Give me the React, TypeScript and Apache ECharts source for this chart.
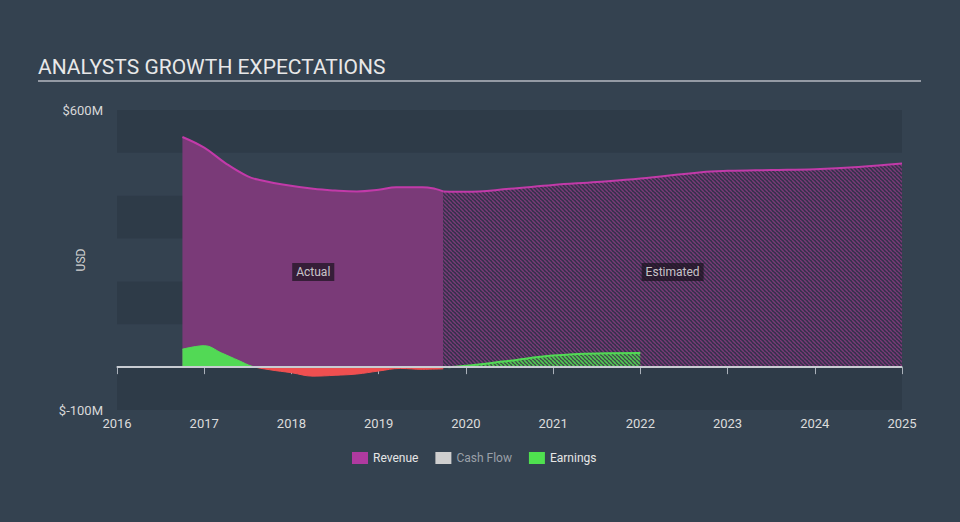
import React, { useEffect, useRef } from "react";
import * as echarts from "echarts";

// ---- data ----
const revenueActualX = [2016.75, 2017.0, 2017.25, 2017.5, 2017.65, 2017.9, 2018.25, 2018.5, 2018.75, 2019.0, 2019.2, 2019.5, 2019.65, 2019.74];
const revenueActualY = [537, 512, 475, 445, 436, 426, 416, 412, 410, 414, 420, 420, 416, 410];
const revenueEstX = [2019.74, 2020.0, 2020.5, 2021.0, 2021.5, 2022.0, 2022.7, 2023.0, 2023.5, 2024.0, 2024.5, 2025.0];
const revenueEstY = [410, 409, 416, 425, 432, 440, 455, 458, 460, 462, 467, 475];
const earningsActualX = [2016.75, 2016.9, 2017.0, 2017.2, 2017.4, 2017.55, 2017.75, 2018.0, 2018.25, 2018.5, 2018.75, 2019.0, 2019.25, 2019.5, 2019.74];
const earningsActualY = [42, 48, 50, 33, 15, 2, -6, -13, -21, -19, -16, -9, -3, -5, -4];
const earningsEstX = [2019.8, 2020.0, 2020.5, 2021.0, 2021.5, 2022.0];
const earningsEstY = [0, 3, 15, 27, 32, 33];
const regionLabels = ["Actual", "Estimated"];
const regionLabelX = [2018.25, 2022.37];
const regionLabelY = [222, 222];
const xTicks = [2016, 2017, 2018, 2019, 2020, 2021, 2022, 2023, 2024, 2025];
const yTickLabels: Record<number, string> = { 600: "$600M", [-100]: "$-100M" };

const pairs = (xs: number[], ys: number[]) => xs.map((x, i) => [x, ys[i]]);

function makeHatch(stripe: string, bg: string | null, size = 4, width = 1.5) {
  const c = document.createElement("canvas");
  c.width = size;
  c.height = size;
  const ctx = c.getContext("2d")!;
  if (bg) {
    ctx.fillStyle = bg;
    ctx.fillRect(0, 0, size, size);
  }
  ctx.strokeStyle = stripe;
  ctx.lineWidth = width;
  ctx.beginPath();
  for (const o of [-size, 0, size]) {
    ctx.moveTo(o, 0);
    ctx.lineTo(o + size, size);
  }
  ctx.stroke();
  return { image: c.toDataURL(), repeat: "repeat", imageWidth: size, imageHeight: size } as any;
}

export default function App() {
  const ref = useRef<HTMLDivElement>(null);
  useEffect(() => {
    if (!ref.current) return;
    const chart = echarts.init(ref.current, null, { renderer: "svg" });
    const revHatch = makeHatch("#7a3a77", "#33314a");
    const earnHatch = makeHatch("#4fd051", "rgba(70,110,70,0.5)");
    const revLine = "#c23aa9";
    chart.setOption({
      animation: false,
      backgroundColor: "#344250",
      textStyle: { fontFamily: "Roboto, sans-serif" },
      title: {
        text: "ANALYSTS GROWTH EXPECTATIONS",
        left: 38,
        top: 56,
        padding: 0,
        textStyle: { fontSize: 21, fontWeight: "normal", color: "#e8e8e8", fontFamily: "Roboto" },
      },
      graphic: [
        { type: "line", shape: { x1: 38, y1: 81, x2: 921, y2: 81 }, style: { stroke: "#b4b9c0", lineWidth: 1.5 } },
      ],
      grid: { left: 117, right: 58, top: 110, bottom: 112 },
      legend: {
        left: 347,
        top: 447,
        icon: "rect",
        itemWidth: 16,
        itemHeight: 12,
        itemGap: 17,
        textStyle: { fontSize: 12, fontWeight: "normal", color: "#e6e6e6" },
        data: [
          { name: "Revenue", itemStyle: { color: "#b03aa0", borderWidth: 0 }, textStyle: { color: "#e6e6e6" } },
          { name: "Cash Flow", itemStyle: { color: "#cfcfcf", borderWidth: 0 }, textStyle: { color: "#9aa0a8" } },
          { name: "Earnings", itemStyle: { color: "#4fe04f", borderWidth: 0 }, textStyle: { color: "#e6e6e6" } },
        ],
      },
      visualMap: {
        type: "piecewise",
        show: false,
        seriesIndex: 2,
        dimension: 1,
        pieces: [
          { gte: -1000, lt: 0, color: "#ef4f50" },
          { gte: 0, lte: 1000, color: "#52d955" },
        ],
      },
      xAxis: {
        type: "value",
        min: xTicks[0],
        max: xTicks[xTicks.length - 1],
        interval: 1,
        axisLine: { lineStyle: { color: "#aab1ba", width: 1.5 } },
        axisTick: { length: 7, lineStyle: { color: "#aab1ba" } },
        axisLabel: { color: "#dcdcdc", fontSize: 13, margin: 7, formatter: (v: number) => String(v) },
        splitLine: { show: false },
      },
      yAxis: {
        type: "value",
        min: -100,
        max: 600,
        interval: 100,
        name: "USD",
        nameLocation: "middle",
        nameGap: 30,
        nameMoveOverlap: false,
        nameTextStyle: { color: "#d0d0d0", fontSize: 12 },
        axisLine: { show: false },
        axisTick: { show: false },
        axisLabel: {
          color: "#d8d8d8",
          fontSize: 13,
          margin: 14,
          formatter: (v: number) => yTickLabels[v] ?? "",
        },
        splitLine: { show: false },
        splitArea: { show: true, areaStyle: { color: ["#2e3b48", "rgba(0,0,0,0)"] } },
      },
      series: [
        {
          name: "Revenue",
          type: "line",
          smooth: 0.4,
          showSymbol: false,
          data: pairs(revenueActualX, revenueActualY),
          itemStyle: { color: "#b03aa0" },
          lineStyle: { color: revLine, width: 2 },
          areaStyle: { color: "#7a3a78", opacity: 1 },
          z: 2,
          markLine: {
            silent: true,
            symbol: "none",
            label: { show: false },
            lineStyle: { color: "#c8ccd2", width: 2, type: "solid" },
            data: [{ yAxis: 0 }],
          },
        },
        {
          name: "Revenue",
          type: "line",
          smooth: 0.4,
          showSymbol: false,
          data: pairs(revenueEstX, revenueEstY),
          itemStyle: { color: "#b03aa0" },
          lineStyle: { color: revLine, width: 2 },
          areaStyle: { color: revHatch, opacity: 1 },
          z: 2,
        },
        {
          name: "Earnings",
          type: "line",
          smooth: 0.4,
          showSymbol: false,
          data: pairs(earningsActualX, earningsActualY),
          lineStyle: { width: 1 },
          areaStyle: { opacity: 1 },
          z: 3,
        },
        {
          name: "Earnings",
          type: "line",
          smooth: 0.4,
          showSymbol: false,
          data: pairs(earningsEstX, earningsEstY),
          itemStyle: { color: "#4fe04f" },
          lineStyle: { color: "#52d955", width: 2 },
          areaStyle: { color: earnHatch, opacity: 1 },
          z: 3,
        },
        {
          name: "Cash Flow",
          type: "line",
          data: [],
          itemStyle: { color: "#cfcfcf" },
        },
        {
          name: "labels",
          type: "scatter",
          silent: true,
          symbolSize: 0,
          itemStyle: { color: "transparent" },
          z: 10,
          data: regionLabels.map((t, i) => [regionLabelX[i], regionLabelY[i], t]),
          label: {
            show: true,
            position: "inside",
            formatter: (p: any) => p.data[2],
            color: "#f0f0f0",
            fontSize: 12,
            backgroundColor: "rgba(28,20,32,0.9)",
            padding: [3, 4],
          },
        },
      ],
    });
    return () => chart.dispose();
  }, []);
  return <div ref={ref} style={{ position: "fixed", left: 0, top: 0, width: 960, height: 522 }} />;
}
